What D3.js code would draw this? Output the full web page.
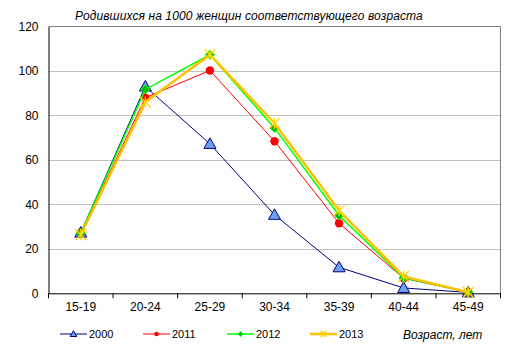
<!DOCTYPE html>
<html><head><meta charset="utf-8">
<script src="https://cdn.jsdelivr.net/npm/d3@7"></script>
<style>body{margin:0;background:#fff}svg{display:block}text{font-family:"Liberation Sans",Arial,sans-serif;fill:#000}</style>
</head><body><svg id="c" width="514" height="356"></svg>
<script>
const categories = ["15-19","20-24","25-29","30-34","35-39","40-44","45-49"];
const years = ["2000","2011","2012","2013"];
const v2000 = [27.3, 93, 67.2, 35.3, 11.7, 2.4, 0.4];
const v2011 = [27, 88, 100.2, 68.4, 31.5, 6.8, 0.5];
const v2012 = [27, 91.7, 107.3, 74.4, 35, 7, 0.5];
const v2013 = [26.3, 86, 107.3, 76.5, 37.2, 7.6, 0.5];
const yTicks = [0,20,40,60,80,100,120];
const titleText = "Родившихся на 1000 женщин соответствующего возраста";
const xAxisTitle = "Возраст, лет";

const series = [
  {name: years[0], values: v2000, color:"#000080", width:1, marker:"tri"},
  {name: years[1], values: v2011, color:"#ff0000", width:1, marker:"circle"},
  {name: years[2], values: v2012, color:"#00ff00", width:1.5, marker:"diamond"},
  {name: years[3], values: v2013, color:"#ffc000", width:2.5, marker:"star"}
];

const svg = d3.select("#c");
const L = 48.5, R = 500.5, T = 26.5, B = 293.3;
const x = d3.scaleBand().domain(categories).range([L, R]);
const y = d3.scaleLinear().domain([0,120]).range([B, T]);

// grid
svg.append("g").selectAll("line").data(yTicks.filter(d=>d>0 && d<120)).join("line")
  .attr("x1", L).attr("x2", R).attr("y1", d=>Math.round(y(d))+0.5).attr("y2", d=>Math.round(y(d))+0.5)
  .attr("stroke","#c0c0c0").attr("stroke-width",1);
// top/right border
svg.append("path").attr("d", `M${L},${T}H${R}V${B}`).attr("fill","none").attr("stroke","#808080").attr("stroke-width",1);

// y axis
const ya = svg.append("g").attr("transform",`translate(${L},0)`)
  .call(d3.axisLeft(y).tickValues(yTicks).tickSize(0).tickPadding(10));
ya.select(".domain").attr("stroke","#000");
ya.selectAll("text").attr("font-size",12).style("font-family","'Liberation Sans',Arial,sans-serif");

// x axis
const xa = svg.append("g").attr("transform",`translate(0,${B})`)
  .call(d3.axisBottom(x).tickSize(0).tickPadding(9));
xa.select(".domain").attr("stroke","#000");
xa.selectAll("text").attr("font-size",12).style("font-family","'Liberation Sans',Arial,sans-serif");
// category boundary ticks
const bounds = categories.map(c=>x(c)).concat([R]);
xa.selectAll("line.bt").data(bounds).join("line").attr("class","bt")
  .attr("x1",d=>d).attr("x2",d=>d).attr("y1",0).attr("y2",5).attr("stroke","#000");

// markers
function drawMarker(g, type, cx, cy, s, legend) {
  const k = legend ? 0.55 : 1;
  if (type==="tri") {
    const r = 6*k;
    g.append("path").attr("d",`M${cx},${cy-r}L${cx+r},${cy+r*0.75}L${cx-r},${cy+r*0.75}Z`)
      .attr("fill","#6fa0f0").attr("stroke","#000080").attr("stroke-width",1);
  } else if (type==="circle") {
    g.append("circle").attr("cx",cx).attr("cy",cy).attr("r",4.2*k).attr("fill","#ff0000");
  } else if (type==="diamond") {
    const r = 4.5*k;
    g.append("path").attr("d",`M${cx},${cy-r}L${cx+r},${cy}L${cx},${cy+r}L${cx-r},${cy}Z`)
      .attr("fill","#00c000").attr("stroke","#00ff00").attr("stroke-width",1);
  } else if (type==="star") {
    const r = 5.5*k;
    const p = `M${cx-r},${cy-r}L${cx+r},${cy+r}M${cx+r},${cy-r}L${cx-r},${cy+r}M${cx},${cy-r}L${cx},${cy+r}`;
    g.append("path").attr("d",p).attr("stroke","#ffd700").attr("stroke-width",1.3).attr("fill","none");
  }
}

const line = d3.line().x((d,i)=>x(categories[i])+x.bandwidth()/2).y(d=>y(d));
series.forEach(s=>{
  const g = svg.append("g");
  g.append("path").datum(s.values).attr("d",line).attr("fill","none")
    .attr("stroke",s.color).attr("stroke-width",s.width);
  s.values.forEach((v,i)=>drawMarker(g, s.marker, x(categories[i])+x.bandwidth()/2, y(v)));
});

// title
svg.append("text").attr("x",75).attr("y",20).attr("font-size",12).attr("font-style","italic")
  .attr("letter-spacing",0.1).text(titleText);

// legend
const lx = [60, 143, 227, 310];
series.forEach((s,i)=>{
  const g = svg.append("g");
  const ly = 334;
  g.append("line").attr("x1",lx[i]).attr("x2",lx[i]+27).attr("y1",ly).attr("y2",ly)
    .attr("stroke",s.color).attr("stroke-width",s.width);
  drawMarker(g, s.marker, lx[i]+13.5, ly, 0, true);
  g.append("text").attr("x",lx[i]+29).attr("y",ly+4).attr("font-size",11).text(s.name);
});
svg.append("text").attr("x",403).attr("y",338.5).attr("font-size",12).attr("font-style","italic").text(xAxisTitle);
</script></body></html>
